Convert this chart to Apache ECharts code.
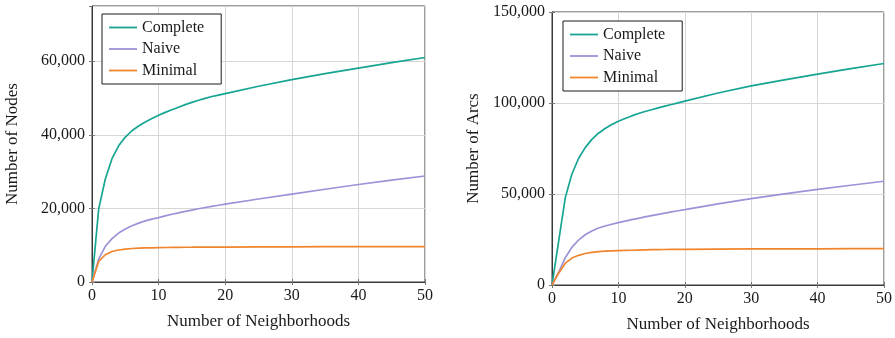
<!DOCTYPE html>
<html>
<head>
<meta charset="utf-8">
<script src="https://cdn.jsdelivr.net/npm/echarts@6/dist/echarts.min.js"></script>
<style>
html,body{margin:0;padding:0;background:#fff;}
#chart{width:895px;height:338px;}
</style>
</head>
<body>
<div id="chart"></div>
<script>
// x positions (number of neighborhoods)
const xs = [0,1,2,3,4,5,6,7,8,9,10,11,12,13,14,15,16,17,18,19,20,25,30,35,40,45,50];
// Number of Nodes
const nodesComplete = [0,19800,28000,33500,37000,39400,41100,42400,43500,44400,45300,46100,46800,47500,48200,48800,49400,49900,50400,50800,51200,53200,55000,56600,58100,59600,61000];
const nodesNaive    = [0,6200,9700,11800,13300,14400,15300,16000,16600,17100,17500,17950,18400,18800,19200,19550,19900,20250,20550,20850,21150,22550,23900,25200,26500,27700,28800];
const nodesMinimal  = [0,5600,7400,8300,8700,8950,9100,9200,9250,9300,9350,9380,9400,9420,9440,9450,9470,9480,9490,9500,9500,9550,9550,9600,9600,9600,9600];
// Number of Arcs
const arcsComplete = [0,24000,48000,61000,69500,75500,80000,83400,86000,88200,90000,91500,92900,94200,95300,96300,97300,98250,99200,100100,101000,105500,109400,112700,115900,118900,121700];
const arcsNaive    = [0,7000,15000,20700,24700,27600,29700,31300,32400,33400,34300,35100,35900,36650,37400,38100,38800,39500,40200,40800,41400,44600,47500,50100,52500,54800,57000];
const arcsMinimal  = [0,6500,12000,14800,16300,17300,17900,18300,18600,18800,18900,19000,19100,19200,19300,19400,19450,19500,19550,19600,19600,19700,19800,19850,19900,19950,20000];
const seriesNames = ['Complete','Naive','Minimal'];
const xTicks = [0,10,20,30,40,50];
const nodesTicks = [0,20000,40000,60000];
const arcsTicks = [0,50000,100000,150000];

const colors = ['#17a593','#9b93d8','#f0852d'];
const FONT = '"Liberation Serif", "DejaVu Serif", serif';
const txt = '#1a1a1a';
const LINE_ICON = 'path://M0,0L0,0M0,6.1L28,6.1L28,7.9L0,7.9ZM28,14L28,14';

function pairs(v){ return xs.map((x,i)=>[x,v[i]]); }
function fmt(v){ return Number(v).toLocaleString('en-US'); }

const grids = [
  {left:92, top:6, width:333, height:276, show:true, borderColor:'#3a3a3a', borderWidth:1, backgroundColor:'transparent'},
  {left:552, top:12, width:333, height:277, show:true, borderColor:'#3a3a3a', borderWidth:1, backgroundColor:'transparent'}
];

function xAxisFor(g){
  return {
    type:'value', gridIndex:g, min:xTicks[0], max:xTicks[xTicks.length-1], interval:xTicks[1]-xTicks[0],
    position:'bottom',
    name:'Number of Neighborhoods', nameLocation:'middle', nameGap:31,
    nameTextStyle:{fontFamily:FONT,fontSize:17,color:txt},
    axisLine:{show:true,lineStyle:{color:'#3a3a3a',width:1}},
    axisTick:{show:true,inside:true,length:3,lineStyle:{color:'#777'}},
    axisLabel:{fontFamily:FONT,fontSize:16,color:txt,margin:6},
    splitLine:{show:true,lineStyle:{color:'#d6d6d6',width:1}}
  };
}
function xTopFor(g){
  return {
    type:'value', gridIndex:g, min:xTicks[0], max:xTicks[xTicks.length-1], interval:xTicks[1]-xTicks[0], position:'top',
    axisLine:{show:false}, axisTick:{show:true,inside:true,length:3,lineStyle:{color:'#777'}},
    axisLabel:{show:false}, splitLine:{show:false}
  };
}
function yAxisFor(g, name, ticks, max, gap){
  const interval = ticks[1]-ticks[0];
  return {
    type:'value', gridIndex:g, min:ticks[0], max:max, interval:interval, position:'left',
    name:name, nameLocation:'middle', nameGap:gap,
    nameTextStyle:{fontFamily:FONT,fontSize:17,color:txt},
    axisLine:{show:true,lineStyle:{color:'#3a3a3a',width:1}},
    axisTick:{show:true,inside:true,length:3,lineStyle:{color:'#777'}},
    axisLabel:{fontFamily:FONT,fontSize:16,color:txt,margin:7,formatter:fmt,showMaxLabel: max % interval === 0},
    splitLine:{show:true,lineStyle:{color:'#d6d6d6',width:1}}
  };
}
function yRightFor(g, ticks, max){
  return {
    type:'value', gridIndex:g, min:ticks[0], max:max, interval:ticks[1]-ticks[0], position:'right',
    axisLine:{show:false}, axisTick:{show:true,inside:true,length:3,lineStyle:{color:'#777'}},
    axisLabel:{show:false}, splitLine:{show:false}
  };
}

const nodesData = [nodesComplete,nodesNaive,nodesMinimal];
const arcsData = [arcsComplete,arcsNaive,arcsMinimal];
const series = [];
[nodesData, arcsData].forEach((set, g)=>{
  set.forEach((vals,i)=>{
    series.push({
      type:'line', name:seriesNames[i], xAxisIndex:g, yAxisIndex:g,
      data:pairs(vals), symbol:'none', smooth:false,
      lineStyle:{color:colors[i],width:1.7}, itemStyle:{color:colors[i]},
      emphasis:{disabled:true}, animation:false
    });
  });
});

function legendAt(left, top){
  return {
    left:left, top:top, orient:'vertical',
    data:seriesNames.map(n=>({name:n, icon:LINE_ICON})),
    itemWidth:28, itemHeight:14, itemGap:5.5,
    padding:[5.5,17,5.5,7],
    borderColor:'#1a1a1a', borderWidth:1, backgroundColor:'#fff',
    textStyle:{fontFamily:FONT,fontSize:16,color:txt},
    selectedMode:false
  };
}

const chart = echarts.init(document.getElementById('chart'), null, {renderer:'canvas'});
chart.setOption({
  animation:false,
  backgroundColor:'#fff',
  grid:grids,
  xAxis:[xAxisFor(0), xAxisFor(1), xTopFor(0), xTopFor(1)],
  yAxis:[
    yAxisFor(0,'Number of Nodes',nodesTicks,75000,71),
    yAxisFor(1,'Number of Arcs',arcsTicks,150000,70),
    yRightFor(0,nodesTicks,75000), yRightFor(1,arcsTicks,150000)
  ],
  legend:[legendAt(102,14), legendAt(563,21)],
  series:series
});
</script>
</body>
</html>
